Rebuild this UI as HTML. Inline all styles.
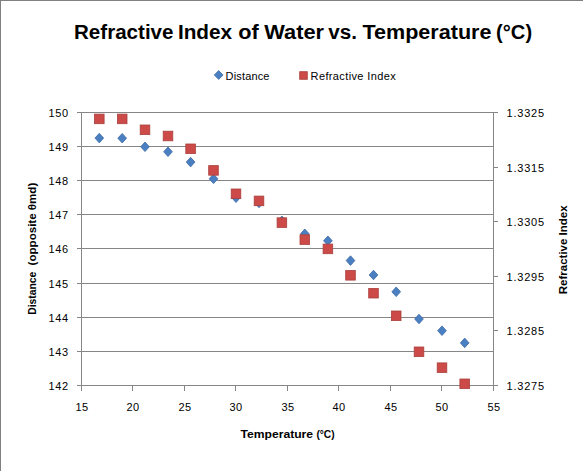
<!DOCTYPE html>
<html><head><meta charset="utf-8"><style>
html,body{margin:0;padding:0;background:#fff;width:583px;height:471px;overflow:hidden}
svg{display:block}
text{font-family:"Liberation Sans",sans-serif;fill:#000}
</style></head><body>
<svg width="583" height="471" viewBox="0 0 583 471">
<rect x="0" y="0" width="583" height="471" fill="#fff"/>
<rect x="0" y="0" width="1" height="471" fill="#808080"/>
<rect x="0" y="0" width="583" height="1" fill="#808080"/>
<rect x="77" y="112" width="416" height="1" fill="#868686"/>
<rect x="77" y="146" width="416" height="1" fill="#868686"/>
<rect x="77" y="180" width="416" height="1" fill="#868686"/>
<rect x="77" y="214" width="416" height="1" fill="#868686"/>
<rect x="77" y="248" width="416" height="1" fill="#868686"/>
<rect x="77" y="283" width="416" height="1" fill="#868686"/>
<rect x="77" y="317" width="416" height="1" fill="#868686"/>
<rect x="77" y="351" width="416" height="1" fill="#868686"/>
<rect x="77" y="385" width="416" height="1" fill="#868686"/>
<rect x="493" y="112" width="5" height="1" fill="#868686"/>
<rect x="493" y="167" width="5" height="1" fill="#868686"/>
<rect x="493" y="221" width="5" height="1" fill="#868686"/>
<rect x="493" y="276" width="5" height="1" fill="#868686"/>
<rect x="493" y="330" width="5" height="1" fill="#868686"/>
<rect x="493" y="385" width="5" height="1" fill="#868686"/>
<rect x="81" y="112" width="1" height="279" fill="#868686"/>
<rect x="493" y="112" width="1" height="279" fill="#868686"/>
<rect x="81" y="385" width="1" height="6" fill="#868686"/>
<rect x="132" y="385" width="1" height="6" fill="#868686"/>
<rect x="184" y="385" width="1" height="6" fill="#868686"/>
<rect x="235" y="385" width="1" height="6" fill="#868686"/>
<rect x="287" y="385" width="1" height="6" fill="#868686"/>
<rect x="338" y="385" width="1" height="6" fill="#868686"/>
<rect x="390" y="385" width="1" height="6" fill="#868686"/>
<rect x="441" y="385" width="1" height="6" fill="#868686"/>
<rect x="493" y="385" width="1" height="6" fill="#868686"/>
<path d="M99.30 133.30L103.65 138.10L99.30 142.90L94.95 138.10Z" fill="#4A7FC1" stroke="#3D6AA6" stroke-width="0.8"/>
<path d="M122.20 133.40L126.55 138.20L122.20 143.00L117.85 138.20Z" fill="#4A7FC1" stroke="#3D6AA6" stroke-width="0.8"/>
<path d="M145.00 142.00L149.35 146.80L145.00 151.60L140.65 146.80Z" fill="#4A7FC1" stroke="#3D6AA6" stroke-width="0.8"/>
<path d="M168.00 147.00L172.35 151.80L168.00 156.60L163.65 151.80Z" fill="#4A7FC1" stroke="#3D6AA6" stroke-width="0.8"/>
<path d="M190.60 157.30L194.95 162.10L190.60 166.90L186.25 162.10Z" fill="#4A7FC1" stroke="#3D6AA6" stroke-width="0.8"/>
<path d="M213.50 174.00L217.85 178.80L213.50 183.60L209.15 178.80Z" fill="#4A7FC1" stroke="#3D6AA6" stroke-width="0.8"/>
<path d="M236.00 192.90L240.35 197.70L236.00 202.50L231.65 197.70Z" fill="#4A7FC1" stroke="#3D6AA6" stroke-width="0.8"/>
<path d="M259.00 198.10L263.35 202.90L259.00 207.70L254.65 202.90Z" fill="#4A7FC1" stroke="#3D6AA6" stroke-width="0.8"/>
<path d="M281.90 216.00L286.25 220.80L281.90 225.60L277.55 220.80Z" fill="#4A7FC1" stroke="#3D6AA6" stroke-width="0.8"/>
<path d="M304.80 229.00L309.15 233.80L304.80 238.60L300.45 233.80Z" fill="#4A7FC1" stroke="#3D6AA6" stroke-width="0.8"/>
<path d="M327.90 236.00L332.25 240.80L327.90 245.60L323.55 240.80Z" fill="#4A7FC1" stroke="#3D6AA6" stroke-width="0.8"/>
<path d="M350.50 255.80L354.85 260.60L350.50 265.40L346.15 260.60Z" fill="#4A7FC1" stroke="#3D6AA6" stroke-width="0.8"/>
<path d="M373.50 270.20L377.85 275.00L373.50 279.80L369.15 275.00Z" fill="#4A7FC1" stroke="#3D6AA6" stroke-width="0.8"/>
<path d="M396.20 287.00L400.55 291.80L396.20 296.60L391.85 291.80Z" fill="#4A7FC1" stroke="#3D6AA6" stroke-width="0.8"/>
<path d="M419.00 314.20L423.35 319.00L419.00 323.80L414.65 319.00Z" fill="#4A7FC1" stroke="#3D6AA6" stroke-width="0.8"/>
<path d="M442.00 325.90L446.35 330.70L442.00 335.50L437.65 330.70Z" fill="#4A7FC1" stroke="#3D6AA6" stroke-width="0.8"/>
<path d="M464.70 338.10L469.05 342.90L464.70 347.70L460.35 342.90Z" fill="#4A7FC1" stroke="#3D6AA6" stroke-width="0.8"/>
<rect x="94.50" y="114.10" width="9.6" height="9.6" fill="#CC4A47" stroke="#A9413E" stroke-width="0.8"/>
<rect x="117.40" y="114.10" width="9.6" height="9.6" fill="#CC4A47" stroke="#A9413E" stroke-width="0.8"/>
<rect x="140.20" y="125.00" width="9.6" height="9.6" fill="#CC4A47" stroke="#A9413E" stroke-width="0.8"/>
<rect x="163.20" y="131.20" width="9.6" height="9.6" fill="#CC4A47" stroke="#A9413E" stroke-width="0.8"/>
<rect x="185.80" y="144.00" width="9.6" height="9.6" fill="#CC4A47" stroke="#A9413E" stroke-width="0.8"/>
<rect x="208.70" y="165.60" width="9.6" height="9.6" fill="#CC4A47" stroke="#A9413E" stroke-width="0.8"/>
<rect x="231.20" y="189.00" width="9.6" height="9.6" fill="#CC4A47" stroke="#A9413E" stroke-width="0.8"/>
<rect x="254.20" y="196.10" width="9.6" height="9.6" fill="#CC4A47" stroke="#A9413E" stroke-width="0.8"/>
<rect x="277.10" y="217.80" width="9.6" height="9.6" fill="#CC4A47" stroke="#A9413E" stroke-width="0.8"/>
<rect x="300.00" y="234.80" width="9.6" height="9.6" fill="#CC4A47" stroke="#A9413E" stroke-width="0.8"/>
<rect x="323.10" y="244.10" width="9.6" height="9.6" fill="#CC4A47" stroke="#A9413E" stroke-width="0.8"/>
<rect x="345.70" y="270.50" width="9.6" height="9.6" fill="#CC4A47" stroke="#A9413E" stroke-width="0.8"/>
<rect x="368.70" y="288.40" width="9.6" height="9.6" fill="#CC4A47" stroke="#A9413E" stroke-width="0.8"/>
<rect x="391.40" y="311.00" width="9.6" height="9.6" fill="#CC4A47" stroke="#A9413E" stroke-width="0.8"/>
<rect x="414.20" y="347.00" width="9.6" height="9.6" fill="#CC4A47" stroke="#A9413E" stroke-width="0.8"/>
<rect x="437.20" y="362.90" width="9.6" height="9.6" fill="#CC4A47" stroke="#A9413E" stroke-width="0.8"/>
<rect x="459.90" y="379.00" width="9.6" height="9.6" fill="#CC4A47" stroke="#A9413E" stroke-width="0.8"/>
<path d="M218.7 70.6L223.1 75L218.7 79.4L214.3 75Z" fill="#4A7FC1" stroke="#3D6AA6" stroke-width="0.8"/>
<rect x="299.7" y="71.7" width="7.6" height="7.6" fill="#CC4A47" stroke="#A9413E" stroke-width="0.8"/>
<text x="74" y="39" font-size="19.5" font-weight="bold" textLength="99.5" lengthAdjust="spacingAndGlyphs">Refractive</text>
<text x="177.9" y="39" font-size="19.5" font-weight="bold" textLength="54.2" lengthAdjust="spacingAndGlyphs">Index</text>
<text x="238.2" y="39" font-size="19.5" font-weight="bold" textLength="20.5" lengthAdjust="spacingAndGlyphs">of</text>
<text x="264.3" y="39" font-size="19.5" font-weight="bold" textLength="59.8" lengthAdjust="spacingAndGlyphs">Water</text>
<text x="328.2" y="39" font-size="19.5" font-weight="bold" textLength="28.7" lengthAdjust="spacingAndGlyphs">vs.</text>
<text x="362.4" y="39" font-size="19.5" font-weight="bold" textLength="129.1" lengthAdjust="spacingAndGlyphs">Temperature</text>
<text x="496.1" y="39" font-size="19.5" font-weight="bold" textLength="36.0" lengthAdjust="spacingAndGlyphs">(°C)</text>
<text x="225.6" y="80" font-size="11" font-weight="normal" text-anchor="start" letter-spacing="0.15" >Distance</text>
<text x="310.6" y="80" font-size="11" font-weight="normal" text-anchor="start" letter-spacing="0.37" >Refractive Index</text>
<text x="48.6" y="117" font-size="11" font-weight="normal" text-anchor="start" letter-spacing="0.55" >150</text>
<text x="48.6" y="151" font-size="11" font-weight="normal" text-anchor="start" letter-spacing="0.55" >149</text>
<text x="48.6" y="185" font-size="11" font-weight="normal" text-anchor="start" letter-spacing="0.55" >148</text>
<text x="48.6" y="219" font-size="11" font-weight="normal" text-anchor="start" letter-spacing="0.55" >147</text>
<text x="48.6" y="253" font-size="11" font-weight="normal" text-anchor="start" letter-spacing="0.55" >146</text>
<text x="48.6" y="288" font-size="11" font-weight="normal" text-anchor="start" letter-spacing="0.55" >145</text>
<text x="48.6" y="322" font-size="11" font-weight="normal" text-anchor="start" letter-spacing="0.55" >144</text>
<text x="48.6" y="356" font-size="11" font-weight="normal" text-anchor="start" letter-spacing="0.55" >143</text>
<text x="48.6" y="390" font-size="11" font-weight="normal" text-anchor="start" letter-spacing="0.55" >142</text>
<text x="506.5" y="117" font-size="11" font-weight="normal" text-anchor="start" letter-spacing="0.8" >1.3325</text>
<text x="506.5" y="172" font-size="11" font-weight="normal" text-anchor="start" letter-spacing="0.8" >1.3315</text>
<text x="506.5" y="226" font-size="11" font-weight="normal" text-anchor="start" letter-spacing="0.8" >1.3305</text>
<text x="506.5" y="281" font-size="11" font-weight="normal" text-anchor="start" letter-spacing="0.8" >1.3295</text>
<text x="506.5" y="335" font-size="11" font-weight="normal" text-anchor="start" letter-spacing="0.8" >1.3285</text>
<text x="506.5" y="390" font-size="11" font-weight="normal" text-anchor="start" letter-spacing="0.8" >1.3275</text>
<text x="82.0" y="411" font-size="11" font-weight="normal" text-anchor="middle" letter-spacing="0.5" >15</text>
<text x="133.0" y="411" font-size="11" font-weight="normal" text-anchor="middle" letter-spacing="0.5" >20</text>
<text x="185.0" y="411" font-size="11" font-weight="normal" text-anchor="middle" letter-spacing="0.5" >25</text>
<text x="236.0" y="411" font-size="11" font-weight="normal" text-anchor="middle" letter-spacing="0.5" >30</text>
<text x="288.0" y="411" font-size="11" font-weight="normal" text-anchor="middle" letter-spacing="0.5" >35</text>
<text x="339.0" y="411" font-size="11" font-weight="normal" text-anchor="middle" letter-spacing="0.5" >40</text>
<text x="391.0" y="411" font-size="11" font-weight="normal" text-anchor="middle" letter-spacing="0.5" >45</text>
<text x="442.0" y="411" font-size="11" font-weight="normal" text-anchor="middle" letter-spacing="0.5" >50</text>
<text x="494.0" y="411" font-size="11" font-weight="normal" text-anchor="middle" letter-spacing="0.5" >55</text>
<text x="240.4" y="438" font-size="11.5" font-weight="bold" textLength="72.7" lengthAdjust="spacingAndGlyphs">Temperature</text>
<text x="316.4" y="438" font-size="11.5" font-weight="bold" textLength="18.2" lengthAdjust="spacingAndGlyphs">(°C)</text>
<text x="0" y="0" font-size="11.5" font-weight="bold" textLength="43.0" lengthAdjust="spacingAndGlyphs" transform="translate(36.4,314.70000000000005) rotate(-90)">Distance</text>
<text x="0" y="0" font-size="11.5" font-weight="bold" textLength="82.7" lengthAdjust="spacingAndGlyphs" transform="translate(36.4,265.40000000000003) rotate(-90)">(opposite θmd)</text>
<text x="0" y="0" font-size="11.5" font-weight="bold" text-anchor="middle" transform="translate(566.9,249.8) rotate(-90)">Refractive Index</text>
</svg>
</body></html>
